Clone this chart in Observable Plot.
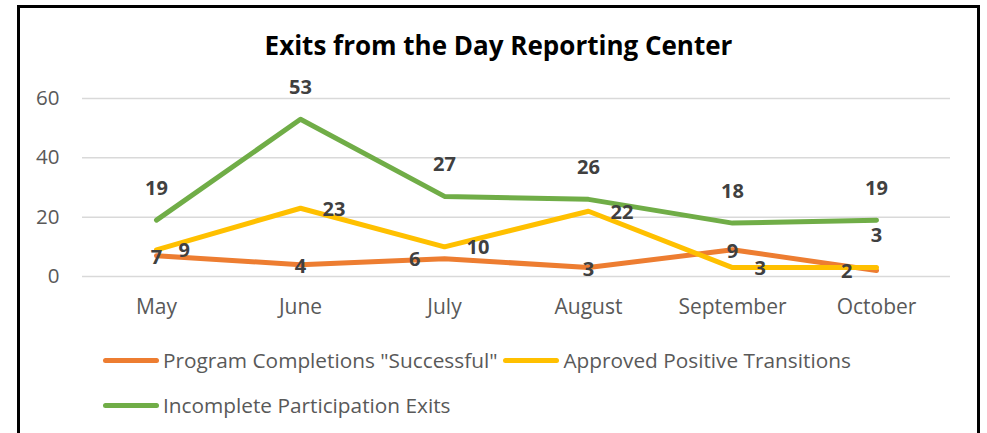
<!DOCTYPE html>
<html>
<head>
<meta charset="utf-8">
<script src="https://cdn.jsdelivr.net/npm/d3@7"></script>
<script src="https://cdn.jsdelivr.net/npm/@observablehq/plot@0.6"></script>
<style>
  body { margin: 0; background: #fff; }
  #wrap { position: relative; width: 987px; height: 433px; overflow: hidden; background: #fff; font-family: "Open Sans", Lato, sans-serif; }
  #frame { position: absolute; left: 17px; top: 5px; width: 963px; height: 500px; border: 3px solid #000; box-sizing: border-box; }
  #title { position: absolute; left: 0; width: 997px; top: 27px; text-align: center; font-weight: bold; font-size: 26px; color: #000; }
  #chart { position: absolute; left: 0; top: 0; }
  .row { position: absolute; left: 103px; display: flex; align-items: center; font-size: 20.8px; color: #595959; white-space: nowrap; height: 30px; }
  .item { display: flex; align-items: center; margin-right: 6px; }
  .sw { width: 56px; height: 5px; border-radius: 3px; margin-right: 4px; }
</style>
</head>
<body>
<div id="wrap">
  <div id="frame"></div>
  <div id="title">Exits from the Day Reporting Center</div>
  <div id="chart"></div>
  <div id="row1" class="row" style="top:345px"></div>
  <div id="row2" class="row" style="top:390px"></div>
</div>
<script>
// ---- data ----
const months = ["May", "June", "July", "August", "September", "October"];
const seriesNames = ['Program Completions "Successful"', "Approved Positive Transitions", "Incomplete Participation Exits"];
const programCompletions = [7, 4, 6, 3, 9, 2];
const approvedTransitions = [9, 23, 10, 22, 3, 3];
const incompleteExits = [19, 53, 27, 26, 18, 19];
const yTicks = [0, 20, 40, 60];

// label placement per point (styling, kept separate from values)
const placeCompletions = ["center", "center", "left", "center", "center", "left"];
const placeTransitions = ["right", "right", "right", "right", "right", "above"];
const placeIncomplete = ["above", "above", "above", "above", "above", "above"];

const colors = ["#ED7D31", "#FFC000", "#70AD47"];

const allValues = [programCompletions, approvedTransitions, incompleteExits];
const allPlaces = [placeCompletions, placeTransitions, placeIncomplete];
const rows = [];
allValues.forEach((vals, si) => {
  vals.forEach((v, i) => rows.push({series: seriesNames[si], month: months[i], value: v, place: allPlaces[si][i]}));
});

const labelStyle = {fontSize: 20, fontWeight: "bold", fill: "#404040"};

const plot = Plot.plot({
  width: 987,
  height: 433,
  marginLeft: 82,
  marginRight: 37,
  marginTop: 98,
  marginBottom: 157,
  style: {fontFamily: "'Open Sans', Lato, sans-serif", background: "transparent", overflow: "visible"},
  x: {type: "point", domain: months, padding: 0.5, label: null},
  y: {domain: [0, 60], label: null},
  color: {domain: seriesNames, range: colors},
  marks: [
    Plot.gridY(yTicks, {stroke: "#D9D9D9", strokeOpacity: 1, strokeWidth: 1.5}),
    Plot.axisY(yTicks, {tickSize: 0, tickPadding: 23, fontSize: 20.5, fill: "#595959", label: null}),
    Plot.axisX(months, {tickSize: 0, tickPadding: 23, fontSize: 21, fill: "#595959", label: null}),
    Plot.line(rows, {x: "month", y: "value", z: "series", stroke: "series", strokeWidth: 5, strokeLinecap: "round", strokeLinejoin: "round"}),
    Plot.text(rows.filter(d => d.place === "center"), {x: "month", y: "value", text: d => String(d.value), dy: 2, ...labelStyle}),
    Plot.text(rows.filter(d => d.place === "left"), {x: "month", y: "value", text: d => String(d.value), dx: -24, dy: 1, textAnchor: "end", ...labelStyle}),
    Plot.text(rows.filter(d => d.place === "right"), {x: "month", y: "value", text: d => String(d.value), dx: 22, dy: 1, textAnchor: "start", ...labelStyle}),
    Plot.text(rows.filter(d => d.place === "above"), {x: "month", y: "value", text: d => String(d.value), dy: -32, ...labelStyle})
  ]
});
document.getElementById("chart").appendChild(plot);

// legend
const legendRows = [[0, 1], [2]];
legendRows.forEach((idxs, r) => {
  const row = document.getElementById("row" + (r + 1));
  idxs.forEach(i => {
    const it = document.createElement("div");
    it.className = "item";
    const sw = document.createElement("div");
    sw.className = "sw";
    sw.style.background = colors[i];
    const t = document.createElement("span");
    t.textContent = seriesNames[i];
    it.appendChild(sw);
    it.appendChild(t);
    row.appendChild(it);
  });
});
</script>
</body>
</html>
